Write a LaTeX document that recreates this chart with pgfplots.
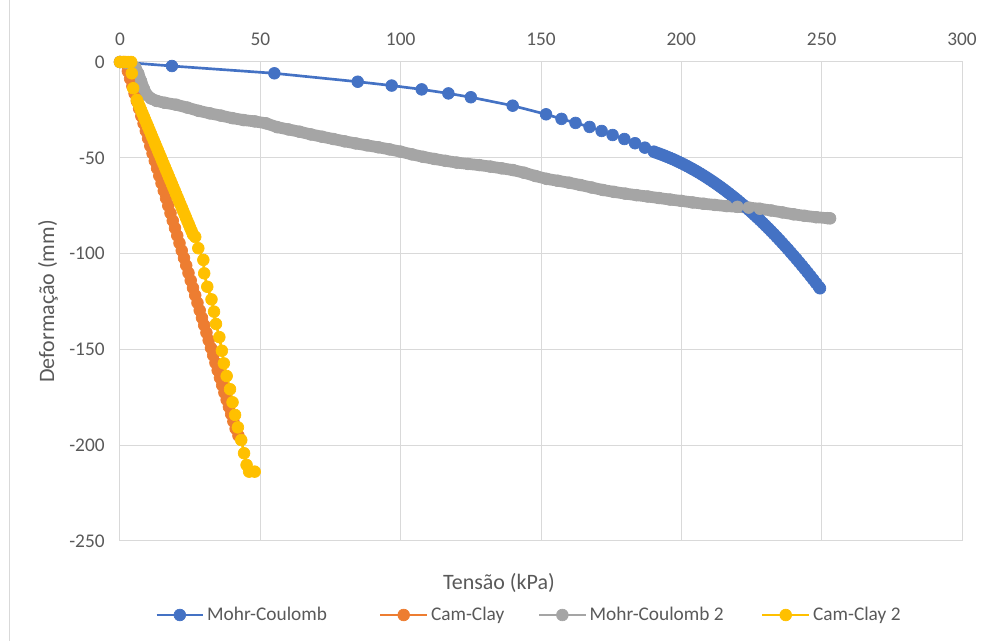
\documentclass[border=0pt]{standalone}
\usepackage{pgfplots}
\pgfplotsset{compat=1.18}
\usepackage{pgfplotstable}
\usepackage{fontspec}
\setmainfont{Carlito}
\definecolor{cblue}{HTML}{4472C4}
\definecolor{corange}{HTML}{ED7D31}
\definecolor{cgray}{HTML}{A5A5A5}
\definecolor{cyellow}{HTML}{FFC000}
\definecolor{cgrid}{HTML}{D9D9D9}
\definecolor{ctext}{HTML}{595959}

\pgfplotstableread{
x y
0 0
18.5 -2.1
55 -5.9
84.7 -10.3
96.8 -12.3
107.5 -14.3
117 -16.4
125 -18.4
139.9 -22.8
151.8 -27.3
157.3 -29.7
162.3 -31.8
167.3 -33.9
171.6 -36.0
175.5 -38.1
179.7 -40.2
183.5 -42.4
187 -44.7
190.2 -46.8
191 -47.29
192 -47.80
193 -48.34
194 -48.91
195 -49.49
196 -50.11
197 -50.74
198 -51.40
199 -52.09
200 -52.80
201 -53.53
202 -54.29
203 -55.07
204 -55.88
205 -56.71
206 -57.56
207 -58.44
208 -59.34
209 -60.27
210 -61.22
211 -62.20
212 -63.20
213 -64.23
214 -65.28
215 -66.35
216 -67.45
217 -68.57
218 -69.72
219 -70.89
220 -72.08
221 -73.30
222 -74.55
223 -75.82
224 -77.11
225 -78.43
226 -79.77
227 -81.13
228 -82.52
229 -83.94
230 -85.38
231 -86.84
232 -88.33
233 -89.84
234 -91.37
235 -92.93
236 -94.52
237 -96.13
238 -97.76
239 -99.42
240 -101.10
241 -102.81
242 -104.54
243 -106.29
244 -108.07
245 -109.87
246 -111.70
247 -113.55
248 -115.43
249 -117.33
249.4 -118.1
}\mohr

\pgfplotstableread{
x y
0 0
1.5 0
2.5 -1.5
2.8 -4.8
3.6 -8.7
4.4 -12.6
5.2 -16.5
6.0 -20.4
6.8 -24.3
7.6 -28.2
8.4 -32.1
9.2 -36.0
10.0 -39.9
10.8 -43.8
11.6 -47.7
12.4 -51.6
13.2 -55.5
14.0 -59.4
14.8 -63.3
15.6 -67.2
16.4 -71.1
17.2 -75.0
18.0 -78.9
18.8 -82.8
19.6 -86.7
20.4 -90.6
21.2 -94.5
22.0 -98.4
22.8 -102.3
23.6 -106.2
24.4 -110.1
25.2 -114.0
26.0 -117.9
26.8 -121.8
27.6 -125.7
28.4 -129.6
29.2 -133.5
30.0 -137.4
30.8 -141.3
31.6 -145.2
32.4 -149.2
33.2 -153.1
34.0 -157.0
34.8 -160.9
35.6 -164.8
36.4 -168.7
37.2 -172.6
38.0 -176.3
38.8 -180.0
39.6 -183.8
40.4 -187.6
41.2 -191.4
42.2 -195.0
}\camclay

\pgfplotstableread{
x y
0 0
2 -0.3
4 -1.2
5.5 -3
6.5 -6
7.5 -10
8.5 -14
9.5 -17
11 -19
13 -20.3
16 -21.3
20 -22.3
24 -23.8
28 -25.5
32 -26.8
36 -28
40 -29.3
44 -30.3
48 -31
52 -32
56 -34
60 -35.2
64 -36.4
68 -37.8
72 -39
76 -40.2
80 -41.4
84 -42.5
88 -43.5
92 -44.5
96 -45.6
100 -46.8
104 -48.2
108 -49.5
112 -50.6
116 -51.6
120 -52.5
124 -53.2
128 -53.8
132 -54.6
136 -55.5
140 -56.4
144 -57.8
148 -59.5
152 -61
156 -62
160 -63
164 -64.2
168 -65.5
172 -66.8
176 -67.8
180 -68.7
184 -69.5
188 -70.2
192 -71.0
196 -71.8
200 -72.5
204 -73.3
208 -74.0
212 -74.6
216 -75.2
220 -75.6
224 -76.0
228 -76.6
232 -77.5
236 -78.5
240 -79.5
244 -80.3
248 -81.0
252 -81.5
253 -81.6
}\mohrtwo

\pgfplotstableread{
x y
0 0
1 0
2 0
3 0
4 0
4.2 -5.9
4.7 -13.7
6.0 -19.8
6.5 -21.55
7.0 -23.31
7.5 -25.06
8.0 -26.82
8.5 -28.57
9.0 -30.33
9.5 -32.08
10.0 -33.84
10.5 -35.59
11.0 -37.35
11.5 -39.10
12.0 -40.85
12.5 -42.61
13.0 -44.36
13.5 -46.12
14.0 -47.87
14.5 -49.63
15.0 -51.38
15.5 -53.14
16.0 -54.89
16.5 -56.64
17.0 -58.40
17.5 -60.15
18.0 -61.91
18.5 -63.66
19.0 -65.42
19.5 -67.17
20.0 -68.93
20.5 -70.68
21.0 -72.44
21.5 -74.19
22.0 -75.94
22.5 -77.70
23.0 -79.45
23.5 -81.21
24.0 -82.96
24.5 -84.72
25.0 -86.47
25.5 -88.23
26.0 -89.98
26.8 -91.3
27.9 -97.2
29.7 -103.3
30.0 -110.3
31.1 -117.3
32.6 -123.9
33.5 -130.3
34.2 -136.7
35.4 -143.6
36.3 -150.7
37.0 -157.3
38.0 -163.9
39.2 -170.8
40.1 -177.6
41.0 -184.2
42.0 -190.7
43.2 -197.3
44.2 -204.2
45.1 -210.3
46.0 -213.8
48.0 -213.8
}\camclaytwo

\begin{document}
\begin{tikzpicture}
\useasboundingbox (-90pt,-75pt) rectangle (650.25pt,405.75pt);
\draw[cgrid, line width=0.75pt] (-82.5pt,-75pt) -- (-82.5pt,405.75pt);
\begin{axis}[
  scale only axis,
  width=631.5pt, height=359.25pt,
  xmin=0, xmax=300, ymin=-250, ymax=0,
  clip=false,
  axis line style={draw=cgrid, line width=0.75pt},
  grid=major,
  major grid style={draw=cgrid, line width=0.75pt},
  major tick length=0pt,
  xtick={0,50,100,150,200,250,300},
  xticklabels={0,50,100,150,200,250,300},
  ytick={-250,-200,-150,-100,-50,0},
  yticklabels={-250,-200,-150,-100,-50,0},
  xticklabel pos=upper,
  xticklabel style={font=\fontsize{14.5}{17}\selectfont, text=ctext, anchor=south, yshift=9pt},
  yticklabel style={font=\fontsize{14.5}{17}\selectfont, text=ctext, anchor=east, xshift=-8pt},
  xlabel={Tensão (kPa)},
  ylabel={Deformação (mm)},
  every axis x label/.style={at={(axis description cs:0.450,-0.0877)}, anchor=center, font=\fontsize{16.5}{19}\selectfont, text=ctext},
  every axis y label/.style={at={(axis description cs:-0.0855,0.5)}, rotate=90, anchor=center, font=\fontsize{16.5}{19}\selectfont, text=ctext},
  legend columns=4,
  legend style={at={(axis description cs:0.486,-0.1545)}, anchor=center, draw=none, fill=none,
    font=\fontsize{14.5}{17}\selectfont, text=ctext,
    /tikz/column 2/.style={column sep=37pt},
    /tikz/column 4/.style={column sep=23pt},
    /tikz/column 6/.style={column sep=26pt}},
  legend cell align=left,
  legend image code/.code={\draw[mark repeat=2,mark phase=2,#1] plot coordinates {(0pt,0pt) (17.5pt,0pt) (35pt,0pt)};},
]
\addplot[cblue, line width=2pt, mark=*, mark size=4.4pt, mark options={solid, fill=cblue, draw=cblue, line width=0.5pt}] table[x=x,y=y] {\mohr};
\addlegendentry{Mohr-Coulomb}
\addplot[corange, line width=2pt, mark=*, mark size=4.4pt, mark options={solid, fill=corange, draw=corange, line width=0.5pt}] table[x=x,y=y] {\camclay};
\addlegendentry{Cam-Clay}
\addplot[cgray, line width=8.8pt, line cap=round, line join=round, forget plot] table[x=x,y=y] {\mohrtwo};
\addplot[cgray, line width=2pt, mark=*, mark size=4.4pt, mark options={solid, fill=cgray, draw=cgray, line width=0.5pt}] table[x=x,y=y] {\mohrtwo};
\addlegendentry{Mohr-Coulomb 2}
\addplot[cyellow, line width=2pt, mark=*, mark size=4.4pt, mark options={solid, fill=cyellow, draw=cyellow, line width=0.5pt}] table[x=x,y=y] {\camclaytwo};
\addlegendentry{Cam-Clay 2}
\end{axis}
\end{tikzpicture}
\end{document}
